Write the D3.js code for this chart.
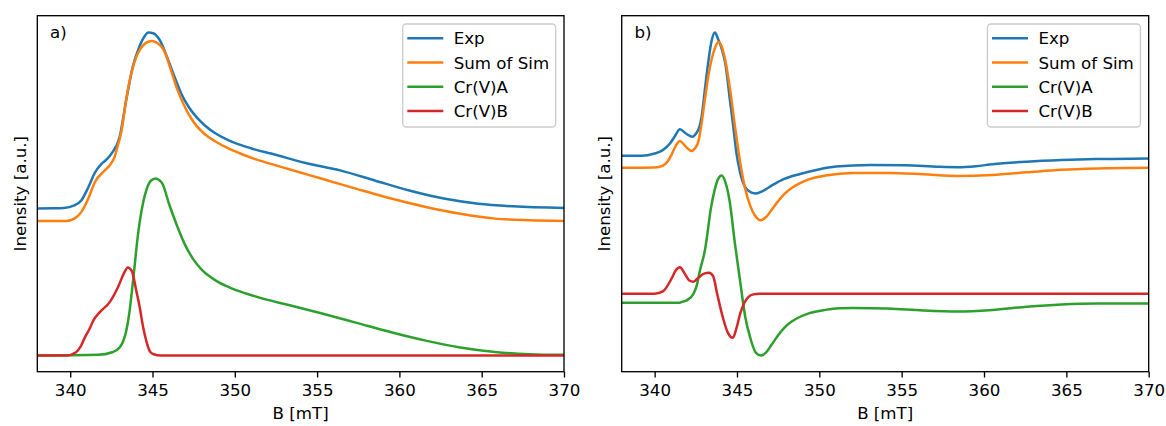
<!DOCTYPE html>
<html>
<head>
<meta charset="utf-8">
<script src="https://cdn.jsdelivr.net/npm/d3@7"></script>
<style>
  html, body { margin: 0; padding: 0; background: #fff; }
  svg { display: block; font-family: "DejaVu Sans", sans-serif; }
</style>
</head>
<body>
<script>
// Field axis (mT) shared by both panels
const fieldDomain = [338, 370];
const fieldTicks = [340, 345, 350, 355, 360, 365, 370];

const seriesNames = ["Exp", "Sum of Sim", "Cr(V)A", "Cr(V)B"];
const seriesColors = ["#1f77b4", "#ff7f0e", "#2ca02c", "#d62728"];
const panelTags = ["a)", "b)"];
const xTitle = "B [mT]";
const yTitle = "Inensity [a.u.]";

// Panel a: absorption-like spectra, [B (mT), intensity (a.u.)]
const aExp = [[338,0.454],[339,0.455],[339.6,0.456],[340.25,0.464],[340.67,0.479],[341.1,0.52],[341.5,0.565],
  [341.9,0.592],[342.2,0.605],[342.55,0.627],[343.0,0.675],[343.4,0.789],[343.8,0.892],[344.2,0.954],[344.5,0.985],
  [344.75,0.998],[345.07,0.995],[345.5,0.969],[345.9,0.92],[346.3,0.866],[346.75,0.809],[347.2,0.768],[347.7,0.735],
  [348.2,0.71],[348.84,0.686],[349.5,0.668],[350.2,0.653],[351.2,0.637],[352.2,0.624],[354.3,0.595],[356.4,0.572],
  [358.5,0.541],[360.6,0.510],[362.7,0.485],[364.8,0.469],[366.9,0.461],[370,0.456]];
const aSum = [[338,0.416],[339.8,0.416],[340.25,0.423],[340.67,0.443],[341.1,0.485],[341.5,0.536],[342.1,0.572],
  [342.4,0.588],[342.7,0.614],[342.9,0.65],[343.1,0.69],[343.43,0.80],[343.7,0.87],[344.03,0.925],[344.3,0.950],
  [344.6,0.966],[344.95,0.972],[345.28,0.966],[345.7,0.943],[346.1,0.885],[346.5,0.823],[346.9,0.775],[347.3,0.737],
  [347.7,0.708],[348.2,0.683],[348.8,0.662],[349.7,0.638],[350.3,0.625],[351.1,0.609],[352.2,0.592],[353.2,0.577],
  [355.3,0.546],[357.4,0.515],[359.5,0.485],[361.6,0.459],[363.7,0.438],[365.8,0.423],[367.9,0.418],[370,0.416]];
const aCrA = [[338,0],[341.7,0.002],[342.55,0.01],[343.0,0.025],[343.2,0.042],[343.4,0.075],[343.6,0.135],[343.75,0.2],
  [343.9,0.27],[344.03,0.335],[344.2,0.405],[344.44,0.475],[344.65,0.515],[344.9,0.54],[345.19,0.547],[345.45,0.54],
  [345.6,0.531],[346.0,0.469],[346.46,0.405],[346.95,0.345],[347.47,0.298],[348.0,0.265],[348.4,0.247],[349.0,0.227],
  [349.7,0.21],[350.3,0.198],[351.1,0.185],[352.0,0.172],[353.2,0.157],[355.3,0.130],[357.4,0.101],[359.5,0.072],
  [361.6,0.046],[363.7,0.025],[365.8,0.011],[367.9,0.004],[370,0.002]];
const aCrB = [[338,0],[339.8,0],[340.35,0.01],[340.6,0.025],[340.9,0.057],[341.2,0.085],[341.4,0.108],[341.8,0.134],
  [342.4,0.165],[342.9,0.211],[343.3,0.258],[343.5,0.272],[343.75,0.26],[344.03,0.196],[344.2,0.155],[344.44,0.085],
  [344.65,0.04],[344.85,0.012],[345.07,0.004],[345.5,0],[370,0]];

// Panel b: derivative spectra, [B (mT), intensity (a.u.)]
const bExp = [[338,0.617],[339.2,0.617],[340.0,0.624],[340.33,0.630],[340.6,0.639],[340.93,0.655],[341.2,0.675],
  [341.54,0.699],[341.9,0.686],[342.31,0.676],[342.5,0.685],[342.75,0.712],[342.86,0.74],[343.07,0.83],[343.2,0.885],
  [343.47,0.975],[343.66,0.998],[343.85,0.978],[344.1,0.943],[344.3,0.90],[344.57,0.79],[344.77,0.71],[344.97,0.625],
  [345.19,0.565],[345.5,0.52],[345.85,0.504],[346.14,0.501],[346.56,0.508],[347.2,0.528],[347.83,0.545],[348.83,0.561],
  [349.95,0.575],[351.0,0.584],[353.1,0.589],[355.2,0.588],[357.3,0.583],[358.4,0.582],[359.5,0.585],[360.5,0.591],
  [362.6,0.599],[364.7,0.604],[366.8,0.607],[370,0.609]];
const bSum = [[338,0.580],[340.0,0.581],[340.5,0.587],[340.8,0.600],[341.04,0.622],[341.28,0.648],[341.54,0.663],
  [341.8,0.650],[342.25,0.632],[342.44,0.640],[342.65,0.66],[342.86,0.72],[343.06,0.794],[343.28,0.87],[343.47,0.918],
  [343.7,0.955],[343.87,0.969],[344.07,0.955],[344.3,0.91],[344.6,0.815],[344.9,0.70],[345.2,0.595],[345.5,0.515],
  [345.8,0.463],[346.1,0.432],[346.44,0.418],[346.77,0.428],[347.1,0.45],[347.5,0.477],[347.9,0.5],[348.3,0.517],
  [348.8,0.532],[349.4,0.545],[350.37,0.556],[352.06,0.564],[354.17,0.564],[356.3,0.560],[358.4,0.555],
  [360.5,0.558],[362.6,0.566],[364.7,0.574],[366.9,0.578],[370,0.580]];
const bCrA = [[338,0.163],[341.5,0.163],[341.74,0.167],[342.0,0.172],[342.35,0.19],[342.55,0.215],[342.76,0.265],
  [343.07,0.33],[343.16,0.36],[343.4,0.45],[343.66,0.515],[343.85,0.545],[344.07,0.556],[344.3,0.535],[344.56,0.475],
  [344.87,0.348],[345.19,0.23],[345.5,0.12],[345.8,0.056],[346.14,0.009],[346.46,0.0],[346.77,0.01],[347.1,0.033],
  [347.5,0.063],[347.9,0.087],[348.3,0.104],[348.8,0.119],[349.4,0.131],[350.37,0.141],[351.2,0.146],[352.06,0.147],
  [354.17,0.145],[356.3,0.139],[358.4,0.136],[360.5,0.141],[362.6,0.151],[364.7,0.158],[366.9,0.161],[370,0.161]];
const bCrB = [[338,0.191],[340.0,0.191],[340.5,0.198],[341.04,0.239],[341.28,0.263],[341.54,0.273],[341.8,0.255],
  [342.1,0.232],[342.35,0.228],[342.65,0.24],[343.0,0.253],[343.3,0.256],[343.55,0.245],[343.8,0.19],[344.13,0.12],
  [344.45,0.07],[344.75,0.055],[344.97,0.085],[345.2,0.13],[345.45,0.163],[345.7,0.181],[346.0,0.189],[346.35,0.191],
  [370,0.191]];

const W = 1166, H = 426;
const plotTop = 15.7, plotBottom = 371.7;
const fontPx = 16.67;

const svg = d3.select("body").append("svg")
  .attr("width", W).attr("height", H)
  .attr("viewBox", `0 0 ${W} ${H}`);

const panels = [
  { tag: panelTags[0], left: 37.3, right: 564.0, series: [aExp, aSum, aCrA, aCrB] },
  { tag: panelTags[1], left: 621.7, right: 1148.7, series: [bExp, bSum, bCrA, bCrB] }
];

panels.forEach(p => {
  const g = svg.append("g");
  const x = d3.scaleLinear().domain(fieldDomain).range([p.left, p.right]);
  const y = d3.scaleLinear().domain([-0.05, 1.05]).range([plotBottom, plotTop]);

  const line = d3.line()
    .x(d => x(d[0]))
    .y(d => y(d[1]))
    .curve(d3.curveMonotoneX);

  // spectra
  p.series.forEach((s, i) => {
    g.append("path")
      .datum(s)
      .attr("d", line)
      .attr("fill", "none")
      .attr("stroke", seriesColors[i])
      .attr("stroke-width", 2.5)
      .attr("stroke-linejoin", "round");
  });

  // bottom axis ticks and labels
  g.append("g")
    .attr("transform", `translate(0,${plotBottom})`)
    .call(d3.axisBottom(x).tickValues(fieldTicks).tickSize(5.8).tickPadding(6.6).tickFormat(d3.format("d")))
    .call(a => a.select(".domain").remove())
    .call(a => a.attr("font-family", "DejaVu Sans").attr("font-size", fontPx))
    .call(a => a.selectAll("line").attr("stroke", "#000").attr("stroke-width", 1.33))
    .call(a => a.selectAll("text").attr("fill", "#000"));

  // frame
  g.append("rect")
    .attr("x", p.left).attr("y", plotTop)
    .attr("width", p.right - p.left).attr("height", plotBottom - plotTop)
    .attr("fill", "none").attr("stroke", "#000").attr("stroke-width", 1.33);

  // panel tag
  g.append("text")
    .attr("x", p.left + 12.7).attr("y", 37.6)
    .attr("font-size", fontPx).attr("fill", "#000")
    .text(p.tag);

  // axis titles
  g.append("text")
    .attr("x", (p.left + p.right) / 2).attr("y", 419)
    .attr("text-anchor", "middle")
    .attr("font-size", fontPx).attr("fill", "#000")
    .text(xTitle);

  g.append("text")
    .attr("transform", `translate(${p.left - 11.8},${(plotTop + plotBottom) / 2}) rotate(-90)`)
    .attr("text-anchor", "middle")
    .attr("font-size", fontPx).attr("fill", "#000")
    .text(yTitle);

  // legend
  const lw = 153, lh = 103;
  const lx = p.right - 8.3 - lw, ly = plotTop + 8.3;
  const leg = g.append("g");
  leg.append("rect")
    .attr("x", lx).attr("y", ly).attr("width", lw).attr("height", lh)
    .attr("rx", 3.5).attr("ry", 3.5)
    .attr("fill", "#fff").attr("fill-opacity", 0.8)
    .attr("stroke", "#cccccc").attr("stroke-width", 1.33);
  seriesNames.forEach((name, i) => {
    const ry = ly + 14.3 + 24.2 * i;
    leg.append("line")
      .attr("x1", lx + 4.6).attr("x2", lx + 40.6)
      .attr("y1", ry).attr("y2", ry)
      .attr("stroke", seriesColors[i]).attr("stroke-width", 2.5);
    leg.append("text")
      .attr("x", lx + 51).attr("y", ry + 6.1)
      .attr("font-size", fontPx).attr("fill", "#000")
      .text(name);
  });
});
</script>
</body>
</html>
